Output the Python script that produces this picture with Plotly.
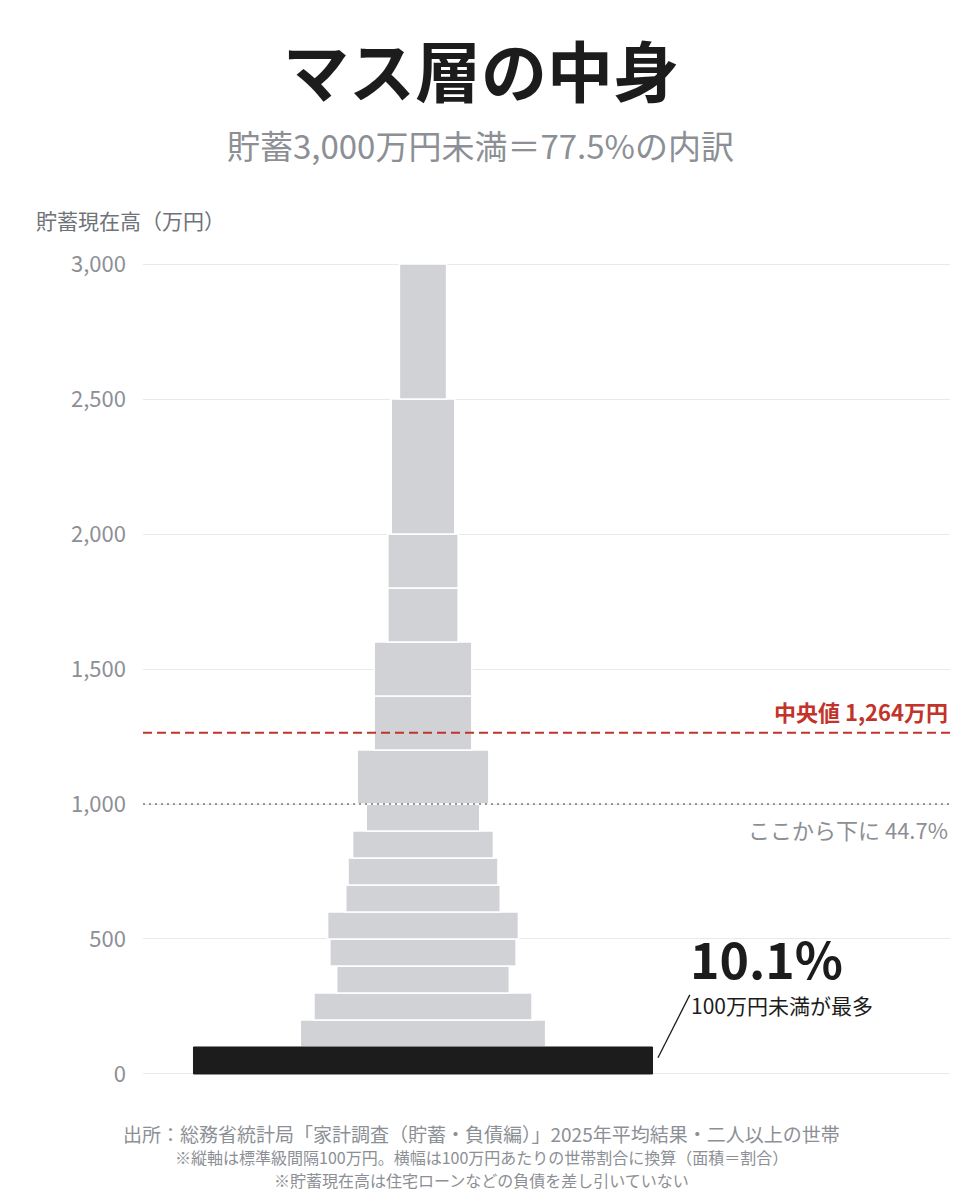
import plotly.graph_objects as go

# ---- data ----
class_lo = [0, 100, 200, 300, 400, 500, 600, 700, 800, 900, 1000, 1200, 1400, 1600, 1800, 2000, 2500]
class_hi = [100, 200, 300, 400, 500, 600, 700, 800, 900, 1000, 1200, 1400, 1600, 1800, 2000, 2500, 3000]
class_share = [10.1, 5.4, 4.8, 3.8, 4.1, 4.2, 3.4, 3.3, 3.1, 2.5, 5.8, 4.3, 4.3, 3.1, 3.1, 7.0, 5.2]  # % of households
median_value = 1264
below_line = 1000
below_share = 44.7
tick_vals = [0, 500, 1000, 1500, 2000, 2500, 3000]
tick_text = ["0", "500", "1,000", "1,500", "2,000", "2,500", "3,000"]

FONT = "Noto Sans CJK JP"
GRAY_TXT = "#8c8f95"
BAR_GRAY = "#d0d2d6"
BLACK = "#1c1c1c"
RED = "#c2342b"

mids = [(a + b) / 2 for a, b in zip(class_lo, class_hi)]
heights = [b - a for a, b in zip(class_lo, class_hi)]
per100 = [s / (h / 100) for s, h in zip(class_share, heights)]
bases = [-w / 2 for w in per100]

fig = go.Figure()
fig.add_trace(go.Bar(
    orientation="h", y=mids[1:], x=per100[1:], base=bases[1:], width=heights[1:],
    marker=dict(color=BAR_GRAY, line=dict(color="white", width=1.6)),
    hoverinfo="skip", showlegend=False,
))
fig.add_trace(go.Bar(
    orientation="h", y=mids[:1], x=per100[:1], base=bases[:1], width=heights[:1],
    marker=dict(color=BLACK, line=dict(color=BLACK, width=1)),
    hoverinfo="skip", showlegend=False,
))

# page is offset by the 8px body margin -> figure is 952x1192
px_per_pct = 45.45
x_left = -(423 - 143) / px_per_pct
x_right = (950 - 423) / px_per_pct

fig.update_layout(
    width=952, height=1192,
    margin=dict(l=135, r=10, t=242, b=110),
    paper_bgcolor="white", plot_bgcolor="white",
    barmode="overlay",
    font=dict(family=FONT, color=GRAY_TXT),
    xaxis=dict(range=[x_left, x_right], showgrid=False, zeroline=False,
               showticklabels=False, fixedrange=True),
    yaxis=dict(range=[-59.3, 3051.9], tickvals=tick_vals, ticktext=tick_text,
               showgrid=True, gridcolor="#e9e9e9", gridwidth=1, zeroline=False,
               tickfont=dict(size=22, color=GRAY_TXT, family=FONT),
               ticklabelstandoff=16, fixedrange=True),
)

# reference lines
fig.add_shape(type="line", xref="paper", x0=0, x1=1, yref="y", y0=median_value, y1=median_value,
              line=dict(color=RED, width=2, dash="9px,5px"))
fig.add_shape(type="line", xref="paper", x0=0, x1=1, yref="y", y0=below_line, y1=below_line,
              line=dict(color="#7a7a7a", width=1.5, dash="2px,4px"))

# leader line from black bar to annotation
fig.add_shape(type="line", xref="x", yref="y",
              x0=per100[0] / 2 + 0.12, y0=60, x1=per100[0] / 2 + 0.82, y1=293,
              line=dict(color=BLACK, width=1.3))


def px(xp):
    return (xp - 143) / 807


def py(yp):
    return (1090 - yp) / 840


ann = []
ann.append(dict(text="<b>マス層の中身</b>", xref="paper", yref="paper", x=px(481), y=py(68),
                xanchor="center", yanchor="middle", showarrow=False,
                font=dict(size=66, color=BLACK, family=FONT)))
ann.append(dict(text="貯蓄3,000万円未満＝77.5%の内訳", xref="paper", yref="paper",
                x=px(480), y=py(145), xanchor="center", yanchor="middle",
                showarrow=False, font=dict(size=33, color=GRAY_TXT, family=FONT)))
ann.append(dict(text="貯蓄現在高（万円）", xref="paper", yref="paper",
                x=px(34), y=py(220), xanchor="left", yanchor="middle",
                showarrow=False, font=dict(size=21, color="#6f7278", family=FONT)))
ann.append(dict(text=f"<b>中央値 {median_value:,}万円</b>", xref="paper", yref="y",
                x=1, y=median_value, xanchor="right", yanchor="bottom", yshift=4,
                showarrow=False, font=dict(size=22, color=RED, family=FONT)))
ann.append(dict(text=f"ここから下に {below_share}%", xref="paper", yref="y",
                x=1, y=below_line, xanchor="right", yanchor="top", yshift=-7,
                showarrow=False, font=dict(size=22, color=GRAY_TXT, family=FONT)))
ann.append(dict(text=f"<b>{class_share[0]}%</b>", xref="x", yref="y",
                x=(688 - 423) / px_per_pct, y=(1074 - 957) / 0.27, xanchor="left", yanchor="middle",
                showarrow=False, font=dict(size=50, color=BLACK, family=FONT)))
ann.append(dict(text="100万円未満が最多", xref="x", yref="y",
                x=(689 - 423) / px_per_pct, y=(1074 - 1005) / 0.27, xanchor="left", yanchor="middle",
                showarrow=False, font=dict(size=21, color=BLACK, family=FONT)))

foot_x = px(481)
ann.append(dict(text="出所：総務省統計局「家計調査（貯蓄・負債編）」2025年平均結果・二人以上の世帯",
                xref="paper", yref="paper", x=foot_x, y=py(1133),
                xanchor="center", yanchor="middle", showarrow=False,
                font=dict(size=19, color=GRAY_TXT, family=FONT)))
ann.append(dict(text="※縦軸は標準級間隔100万円。横幅は100万円あたりの世帯割合に換算（面積＝割合）",
                xref="paper", yref="paper", x=foot_x, y=py(1157),
                xanchor="center", yanchor="middle", showarrow=False,
                font=dict(size=16, color=GRAY_TXT, family=FONT)))
ann.append(dict(text="※貯蓄現在高は住宅ローンなどの負債を差し引いていない",
                xref="paper", yref="paper", x=foot_x, y=py(1180),
                xanchor="center", yanchor="middle", showarrow=False,
                font=dict(size=16, color=GRAY_TXT, family=FONT)))
fig.update_layout(annotations=ann)

fig.write_html("out.html")
